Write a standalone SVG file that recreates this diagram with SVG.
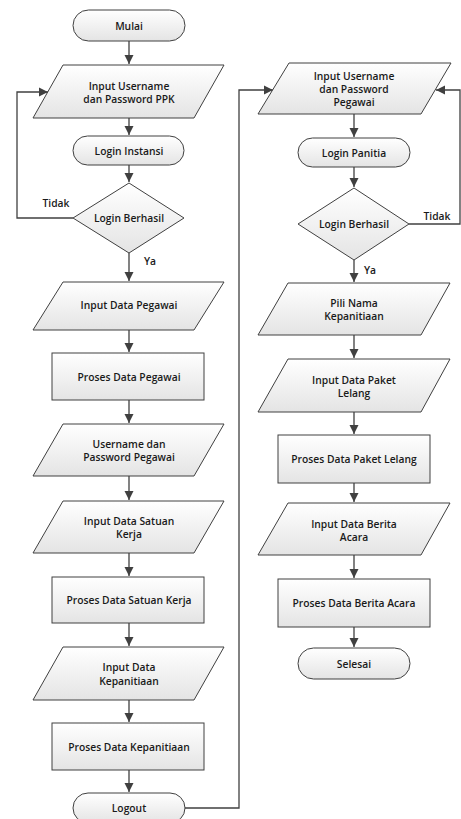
<svg xmlns="http://www.w3.org/2000/svg" width="461" height="819" viewBox="0 0 461 819">
<defs>
<linearGradient id="g" x1="0" y1="0" x2="0" y2="1">
<stop offset="0" stop-color="#ffffff"/>
<stop offset="1" stop-color="#e4e4e4"/>
</linearGradient>
<marker id="ah" markerWidth="10" markerHeight="10" refX="9" refY="5" orient="auto" markerUnits="userSpaceOnUse">
<path d="M0,0.5 L9,5 L0,9.5 z" fill="#404040"/>
</marker>
</defs>
<style>
.s{fill:url(#g);stroke:#404040;stroke-width:1}
.t{font-family:"Open Sans","Noto Sans","DejaVu Sans",sans-serif;font-size:10.3px;font-weight:600;fill:#1a1a1a;text-anchor:middle;dominant-baseline:central}
.c{fill:none;stroke:#404040;stroke-width:1.3}
</style>
<rect width="461" height="819" fill="#ffffff"/>
<g id="connectors">
<path class="c" d="M129,41 V64" marker-end="url(#ah)"/>
<path class="c" d="M129,118 V135" marker-end="url(#ah)"/>
<path class="c" d="M129,165 V182" marker-end="url(#ah)"/>
<path class="c" d="M73,218 H17 V92 H48" marker-end="url(#ah)"/>
<path class="c" d="M129,253 V281" marker-end="url(#ah)"/>
<path class="c" d="M129,330 V352" marker-end="url(#ah)"/>
<path class="c" d="M129,400 V423" marker-end="url(#ah)"/>
<path class="c" d="M129,476 V500" marker-end="url(#ah)"/>
<path class="c" d="M129,553 V576" marker-end="url(#ah)"/>
<path class="c" d="M129,623 V646" marker-end="url(#ah)"/>
<path class="c" d="M129,700 V722" marker-end="url(#ah)"/>
<path class="c" d="M129,770 V792" marker-end="url(#ah)"/>
<path class="c" d="M185,808 H239 V90 H273" marker-end="url(#ah)"/>
<path class="c" d="M354,114 V137" marker-end="url(#ah)"/>
<path class="c" d="M354,167 V187" marker-end="url(#ah)"/>
<path class="c" d="M409,224 H460 V90 H436" marker-end="url(#ah)"/>
<path class="c" d="M354,260 V282" marker-end="url(#ah)"/>
<path class="c" d="M354,335 V358" marker-end="url(#ah)"/>
<path class="c" d="M354,412 V434" marker-end="url(#ah)"/>
<path class="c" d="M354,483 V502" marker-end="url(#ah)"/>
<path class="c" d="M354,555 V578" marker-end="url(#ah)"/>
<path class="c" d="M354,627 V647" marker-end="url(#ah)"/>
<text class="t" x="56" y="203">Tidak</text>
<text class="t" x="150" y="261">Ya</text>
<text class="t" x="437" y="216">Tidak</text>
<text class="t" x="370" y="270">Ya</text>
</g>
<g id="mulai"><rect class="s" x="73" y="10" width="112" height="31" rx="15.5"/><text class="t" x="129" y="25.5">Mulai</text></g>
<g id="input-ppk"><polygon class="s" points="63,65 224,65 194,118 33,118"/><text class="t" x="129" y="86">Input Username</text><text class="t" x="129" y="99">dan Password PPK</text></g>
<g id="login-instansi"><rect class="s" x="73" y="136" width="111" height="29" rx="14.5"/><text class="t" x="129" y="150.5">Login Instansi</text></g>
<g id="login-berhasil-1"><polygon class="s" points="129,183 184,218 129,253 73,218"/><text class="t" x="129" y="218">Login Berhasil</text></g>
<g id="input-data-pegawai"><polygon class="s" points="63,282 224,282 194,330 33,330"/><text class="t" x="129" y="305">Input Data Pegawai</text></g>
<g id="proses-data-pegawai"><rect class="s" x="52" y="353" width="152" height="47"/><text class="t" x="129" y="377">Proses Data Pegawai</text></g>
<g id="username-pegawai"><polygon class="s" points="63,424 224,424 194,476 33,476"/><text class="t" x="129" y="444">Username dan</text><text class="t" x="129" y="457">Password Pegawai</text></g>
<g id="input-satuan-kerja"><polygon class="s" points="63,501 224,501 194,553 33,553"/><text class="t" x="129" y="521">Input Data Satuan</text><text class="t" x="129" y="534">Kerja</text></g>
<g id="proses-satuan-kerja"><rect class="s" x="52" y="577" width="152" height="46"/><text class="t" x="129" y="600">Proses Data Satuan Kerja</text></g>
<g id="input-kepanitiaan"><polygon class="s" points="63,647 224,647 194,700 33,700"/><text class="t" x="129" y="667">Input Data</text><text class="t" x="129" y="681">Kepanitiaan</text></g>
<g id="proses-kepanitiaan"><rect class="s" x="52" y="723" width="152" height="47"/><text class="t" x="129" y="747">Proses Data Kepanitiaan</text></g>
<g id="logout"><rect class="s" x="73" y="793" width="112" height="30" rx="15"/><text class="t" x="129" y="808">Logout</text></g>
<g id="input-pegawai"><polygon class="s" points="289,63 451,63 421,114 258,114"/><text class="t" x="354" y="76">Input Username</text><text class="t" x="354" y="89">dan Password</text><text class="t" x="354" y="102">Pegawai</text></g>
<g id="login-panitia"><rect class="s" x="298" y="138" width="112" height="29" rx="14.5"/><text class="t" x="354" y="152.5">Login Panitia</text></g>
<g id="login-berhasil-2"><polygon class="s" points="354,188 409,224 354,260 298,224"/><text class="t" x="354" y="224">Login Berhasil</text></g>
<g id="pili-nama"><polygon class="s" points="288,283 450,283 421,335 258,335"/><text class="t" x="354" y="303">Pili Nama</text><text class="t" x="354" y="316">Kepanitiaan</text></g>
<g id="input-paket-lelang"><polygon class="s" points="288,359 450,359 421,412 258,412"/><text class="t" x="354" y="380">Input Data Paket</text><text class="t" x="354" y="393">Lelang</text></g>
<g id="proses-paket-lelang"><rect class="s" x="278" y="435" width="152" height="48"/><text class="t" x="354" y="459">Proses Data Paket Lelang</text></g>
<g id="input-berita-acara"><polygon class="s" points="288,503 450,503 421,555 258,555"/><text class="t" x="354" y="524">Input Data Berita</text><text class="t" x="354" y="537">Acara</text></g>
<g id="proses-berita-acara"><rect class="s" x="278" y="579" width="152" height="48"/><text class="t" x="354" y="603">Proses Data Berita Acara</text></g>
<g id="selesai"><rect class="s" x="298" y="648" width="112" height="31" rx="15.5"/><text class="t" x="354" y="663.5">Selesai</text></g>
</svg>
